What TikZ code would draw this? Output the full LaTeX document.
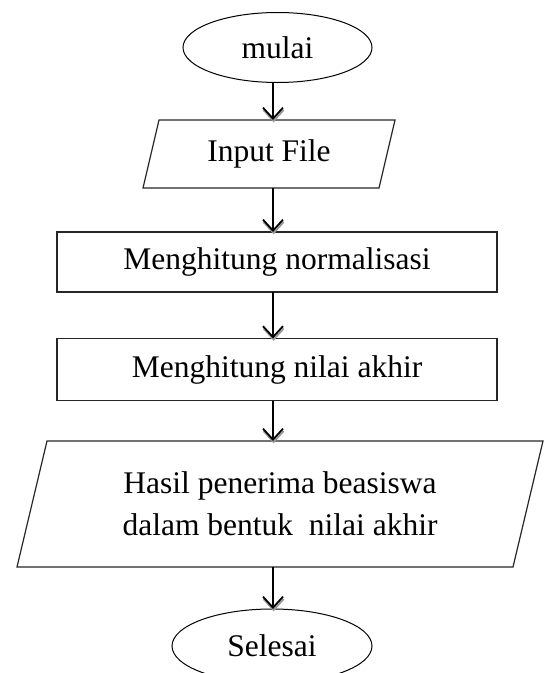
\documentclass[tikz,border=0pt]{standalone}
\usepackage{fontspec}
\setmainfont{Liberation Serif}
\usetikzlibrary{shapes.geometric,arrows.meta,calc}
\begin{document}
\begin{tikzpicture}[x=1pt,y=1pt,
  every node/.style={font=\fontsize{31.5pt}{42pt}\selectfont, inner sep=0pt, outer sep=0pt},
  term/.style={ellipse, draw=black, line width=1pt},
  proc/.style={rectangle, draw=black!85, line width=1.2pt},
  io/.style={rectangle},
  ioline/.style={draw=black!85, line width=1.2pt, line join=miter},
  flow/.style={line width=1.6pt, -{Straight Barb[length=11pt,width=20pt,line width=1.8pt]}},
  flowshadow/.style={flow, draw=black!40, transform canvas={xshift=0.6pt,yshift=-2.4pt}}]
\useasboundingbox (0,0) rectangle (549,-673);

\node[term, minimum width=189pt, minimum height=70pt] (mulai) at (277.5,-47.5) {mulai};

\node[io, minimum width=236pt, minimum height=68pt] (inp) at (269,-154) {Input File};
\draw[ioline] ($(inp.north west)+(8,0)$) -- ($(inp.north east)+(8,0)$) -- ($(inp.south east)+(-8,0)$) -- ($(inp.south west)+(-8,0)$) -- cycle;

\node[proc, minimum width=440pt, minimum height=60pt] (norm) at (277,-262) {Menghitung normalisasi};
\node[proc, minimum width=440pt, minimum height=62pt] (akhir) at (277,-369.5) {Menghitung nilai akhir};

\node[io, minimum width=496pt, minimum height=126pt, align=center] (hasil) at (280,-504) {Hasil penerima beasiswa\\dalam bentuk~~nilai akhir};
\draw[ioline] ($(hasil.north west)+(15,0)$) -- ($(hasil.north east)+(15,0)$) -- ($(hasil.south east)+(-15,0)$) -- ($(hasil.south west)+(-15,0)$) -- cycle;

\node[term, minimum width=200pt, minimum height=74pt] (selesai) at (272,-646) {Selesai};

\coordinate (ax) at (273,0);

\foreach \a/\b in {mulai/inp, inp/norm, norm/akhir, akhir/hasil, hasil/selesai}{
  \draw[flowshadow] (\a.south -| ax) -- (\b.north -| ax);
  \draw[flow] (\a.south -| ax) -- (\b.north -| ax);
}
\end{tikzpicture}
\end{document}
